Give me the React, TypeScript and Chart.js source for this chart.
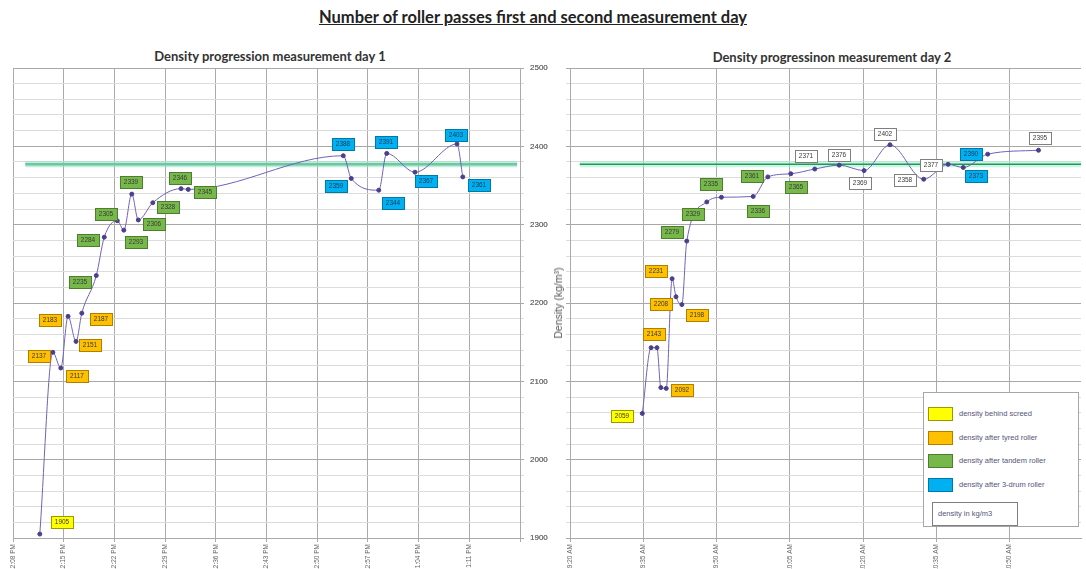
import React, { useEffect, useRef } from 'react';
import { Chart, registerables } from 'chart.js';

Chart.register(...registerables);

const FONT = "'Liberation Sans', Arial, sans-serif";
const TITLE_FONT = "Lato, 'Open Sans', sans-serif";

// ---------- Day 1 ----------
const day1Minutes = [3.7, 5.5, 6.6, 7.6, 8.7, 9.5, 11.5, 12.6, 14.4, 15.3, 16.4, 17.3, 19.3, 23.2, 24.2, 45.6, 46.7, 50.5, 51.6, 55.5, 61.3, 62.1];
const day1Density = [1905, 2137, 2117, 2183, 2151, 2187, 2235, 2284, 2305, 2293, 2339, 2306, 2328, 2346, 2345, 2388, 2359, 2344, 2391, 2367, 2403, 2361];
const day1Stage = [0, 1, 1, 1, 1, 1, 2, 2, 2, 2, 2, 2, 2, 2, 2, 3, 3, 3, 3, 3, 3, 3];
const day1Shown = day1Density.map(() => true);
const day1TickLabels = ['12:08 PM', '12:15 PM', '12:22 PM', '12:29 PM', '12:36 PM', '12:43 PM', '12:50 PM', '12:57 PM', '1:04 PM', '1:11 PM'];
const day1Target = 2377;
const day1TargetSpan = [1.7, 69.6];

// ---------- Day 2 ----------
const day2Minutes = [14.8, 16.6, 17.8, 18.6, 19.7, 20.9, 21.7, 22.9, 23.9, 28.0, 31.0, 37.5, 40.5, 45.2, 50.1, 55.1, 60.2, 65.5, 72.4, 77.4, 80.5, 85.5, 95.9];
const day2Density = [2059, 2143, 2143, 2092, 2091, 2231, 2208, 2198, 2279, 2329, 2335, 2336, 2361, 2365, 2371, 2376, 2369, 2402, 2358, 2377, 2373, 2390, 2395];
const day2Stage = [0, 1, 1, 1, 1, 1, 1, 1, 2, 2, 2, 2, 2, 2, 4, 4, 4, 4, 4, 4, 3, 3, 4];
const day2Shown = [true, true, false, true, false, true, true, true, true, true, true, true, true, true, true, true, true, true, true, true, true, true, true];
const day2TickLabels = ['9:20 AM', '9:35 AM', '9:50 AM', '10:05 AM', '10:20 AM', '10:35 AM', '10:50 AM'];
const day2Target = 2377;
const day2TargetSpan = [2, 104.6];

const legendLabels = [
  'density behind screed',
  'density after tyred roller',
  'density after tandem roller',
  'density after 3-drum roller',
];
const legendNote = 'density in kg/m3';

// ---------- styles (not data) ----------
const STAGE_FILL = ['#ffff00', '#ffc000', '#77b84b', '#00b0f0', '#ffffff'];
const STAGE_BORDER = ['#9a9a00', '#b07f00', '#4e7d2e', '#0078a8', '#7f7f7f'];
const day1Offsets = [[22, -12], [-14, 4], [16, 8], [-18, 4], [14, 4], [19, 6], [-16, 6], [-16, 3], [-11, -7], [12, 12], [-1, -12], [16, 4], [15, 4], [-1, -11], [17, 3], [0, -12], [-15, 8], [14, 13], [-1, -11], [11, 9], [-1, -9], [16, 8]];
const day2Offsets = [[-20, 3], [3, -14], [0, 0], [21, 2], [0, 0], [-16, -8], [-15, 7], [15, 10], [-15, -9], [-14, 12], [-10, -13], [5, 15], [-16, -1], [5, 13], [-9, -13], [0, -10], [-4, 12], [-5, -11], [-19, 1], [-17, 1], [13, 9], [-17, 0], [2, -12]];

function makeLabelPlugin(xs: number[], ys: number[], stages: number[], offsets: number[][], shown: boolean[]) {
  return {
    id: 'boxLabels',
    afterDatasetsDraw(chart: any) {
      const ctx = chart.ctx;
      const xs_ = chart.scales.x;
      const ys_ = chart.scales.y;
      ctx.save();
      ctx.font = `6.5px ${FONT}`;
      ctx.textAlign = 'center';
      ctx.textBaseline = 'middle';
      const w = 23;
      const h = 13;
      for (let i = 0; i < xs.length; i++) {
        if (!shown[i]) continue;
        const px = xs_.getPixelForValue(xs[i]);
        const py = ys_.getPixelForValue(ys[i]);
        const cx = Math.round(px + offsets[i][0]);
        const cy = Math.round(py + offsets[i][1]);
        const l = Math.round(cx - w / 2);
        const t = Math.round(cy - h / 2);
        ctx.fillStyle = STAGE_FILL[stages[i]];
        ctx.fillRect(l, t, w, h);
        ctx.strokeStyle = STAGE_BORDER[stages[i]];
        ctx.lineWidth = 1;
        ctx.strokeRect(l + 0.5, t + 0.5, w - 1, h - 1);
        ctx.fillStyle = stages[i] === 3 ? '#123a5a' : '#3a3a3a';
        ctx.fillText(String(ys[i]), cx, cy + 0.5);
      }
      ctx.restore();
    },
  };
}

function buildConfig(opts: {
  xs: number[]; ys: number[]; stages: number[]; offsets: number[][]; shown: boolean[];
  tickLabels: string[]; xMax: number; step: number; target: number; targetSpan: number[];
  yPos: 'left' | 'right'; padLeft: number; axisWidth: number; tickPad: number; cross: 'near' | 'far';
  glow: string; core: string; coreWidth: number;
}) {
  const points = opts.xs.map((x, i) => ({ x, y: opts.ys[i] }));
  const targetPts = opts.targetSpan.map((x) => ({ x, y: opts.target }));
  return {
    type: 'line' as const,
    data: {
      datasets: [
        {
          data: points,
          borderColor: '#6f62b8',
          borderWidth: 1,
          pointRadius: 2,
          pointBackgroundColor: '#4b3f8c',
          pointBorderColor: '#4b3f8c',
          cubicInterpolationMode: 'monotone' as const,
        },
        {
          data: targetPts,
          borderColor: opts.core,
          borderWidth: opts.coreWidth,
          pointRadius: 0,
        },
        {
          data: targetPts,
          borderColor: opts.glow,
          borderWidth: 6,
          pointRadius: 0,
        },
      ],
    },
    options: {
      animation: false as const,
      responsive: false,
      layout: { padding: { left: opts.padLeft, top: 8, right: 0, bottom: 0 } },
      plugins: { legend: { display: false }, tooltip: { enabled: false }, title: { display: false } },
      scales: {
        x: {
          type: 'linear' as const,
          min: 0,
          max: opts.xMax,
          afterFit: (s: any) => {
            s.height = 31;
            s.paddingRight = 0;
            s.paddingLeft = 0;
          },
          grid: { color: '#aaaaaa', tickLength: 4 },
          border: { color: '#aaaaaa' },
          ticks: {
            stepSize: opts.step,
            includeBounds: false,
            autoSkip: false,
            minRotation: 90,
            maxRotation: 90,
            padding: 2,
            color: '#666666',
            font: { family: FONT, size: 6.5 },
            callback: (_v: any, i: number) => opts.tickLabels[i] ?? '',
          },
        },
        y: {
          type: 'linear' as const,
          position: opts.yPos,
          min: 1900,
          max: 2500,
          afterFit: (s: any) => {
            s.width = opts.axisWidth;
            s.paddingTop = 4;
            s.paddingBottom = 4;
          },
          grid: {
            tickLength: 4,
            color: (c: any) => (c.tick && c.tick.value % 100 === 0 ? '#a8a8a8' : '#dcdcdc'),
          },
          border: { color: '#aaaaaa' },
          ticks: {
            stepSize: 20,
            autoSkip: false,
            padding: opts.tickPad,
            crossAlign: opts.cross,
            color: '#707070',
            font: { family: FONT, size: 8 },
            callback: (v: any) => (Number(v) % 100 === 0 ? String(v) : ''),
          },
        },
      },
    },
    plugins: [makeLabelPlugin(opts.xs, opts.ys, opts.stages, opts.offsets, opts.shown)],
  };
}

function ChartCanvas({ config, left, top, width, height }: any) {
  const ref = useRef<HTMLCanvasElement>(null);
  useEffect(() => {
    if (!ref.current) return;
    const chart = new Chart(ref.current, config);
    return () => chart.destroy();
  }, []);
  return (
    <canvas
      ref={ref}
      width={width}
      height={height}
      style={{ position: 'absolute', left, top, width, height }}
    />
  );
}

export default function App() {
  const cfg1 = buildConfig({
    xs: day1Minutes, ys: day1Density, stages: day1Stage, offsets: day1Offsets, shown: day1Shown,
    tickLabels: day1TickLabels, xMax: 70, step: 7, target: day1Target, targetSpan: day1TargetSpan,
    yPos: 'right', padLeft: 13, axisWidth: 30, tickPad: 6, cross: 'near',
    glow: 'rgba(140,220,200,0.55)', core: '#6cc99a', coreWidth: 2.5,
  });
  const cfg2 = buildConfig({
    xs: day2Minutes, ys: day2Density, stages: day2Stage, offsets: day2Offsets, shown: day2Shown,
    tickLabels: day2TickLabels, xMax: 104.6, step: 15, target: day2Target, targetSpan: day2TargetSpan,
    yPos: 'left', padLeft: 0, axisWidth: 40, tickPad: 18, cross: 'far',
    glow: 'rgba(150,235,210,0.5)', core: '#1e9c4e', coreWidth: 1.5,
  });

  const swatchTops = [14, 38, 61, 85];
  return (
    <div style={{ position: 'fixed', left: 0, top: 0, width: 1086, height: 569, background: '#ffffff', overflow: 'hidden' }}>
      <div style={{ position: 'absolute', left: 0, width: 1066, top: 7, textAlign: 'center', fontFamily: TITLE_FONT, fontWeight: 700, fontSize: 16.5, color: '#222', textDecoration: 'underline' }}>
        Number of roller passes first and second measurement day
      </div>
      <div style={{ position: 'absolute', left: 0, width: 540, top: 48, textAlign: 'center', fontFamily: TITLE_FONT, fontWeight: 700, fontSize: 13, color: '#333' }}>
        Density progression measurement day 1
      </div>
      <div style={{ position: 'absolute', left: 570, width: 524, top: 49, textAlign: 'center', fontFamily: TITLE_FONT, fontWeight: 700, fontSize: 13, color: '#333' }}>
        Density progressinon measurement day 2
      </div>
      <ChartCanvas config={cfg1} left={0} top={60} width={550} height={509} />
      <ChartCanvas config={cfg2} left={530} top={60} width={556} height={509} />
      <div style={{ position: 'absolute', left: 558, top: 303, transform: 'translate(-50%, -50%) rotate(-90deg)', whiteSpace: 'nowrap', fontFamily: FONT, fontSize: 10.5, color: '#555' }}>
        Density (kg/m³)
      </div>
      <div style={{ position: 'absolute', left: 923, top: 392, width: 156, height: 135, border: '1px solid #a6a6a6', background: '#ffffff', boxSizing: 'border-box' }}>
        {legendLabels.map((label, i) => (
          <React.Fragment key={label}>
            <div style={{ position: 'absolute', left: 4, top: swatchTops[i], width: 25, height: 14, background: STAGE_FILL[i], border: `1px solid ${STAGE_BORDER[i]}`, boxSizing: 'border-box' }} />
            <div style={{ position: 'absolute', left: 35, top: swatchTops[i] + 2, fontFamily: FONT, fontSize: 7.5, color: '#55557a', whiteSpace: 'nowrap' }}>{label}</div>
          </React.Fragment>
        ))}
        <div style={{ position: 'absolute', left: 8, top: 109, width: 86, height: 24, border: '1px solid #7f7f7f', boxSizing: 'border-box', fontFamily: FONT, fontSize: 7.5, color: '#55557a', padding: '6px 0 0 5px', whiteSpace: 'nowrap' }}>
          {legendNote}
        </div>
      </div>
    </div>
  );
}
